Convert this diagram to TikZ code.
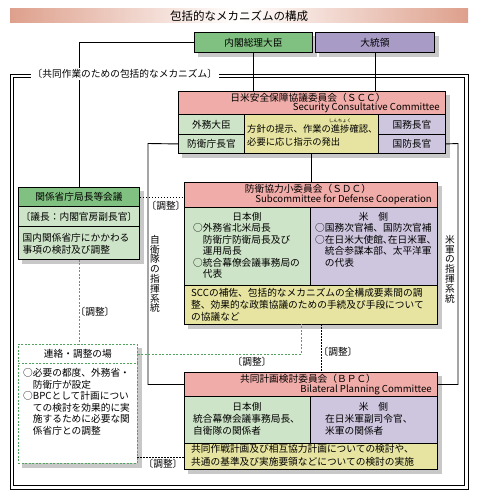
\documentclass[tikz,border=0pt]{standalone}
\usepackage{fontspec}
\setmainfont{Noto Sans CJK JP}
\usepackage{tikz}
\usetikzlibrary{calc, backgrounds}
\definecolor{pmgreen}{RGB}{128,192,128}
\definecolor{prespurple}{RGB}{168,156,198}
\definecolor{hdrpink}{RGB}{240,172,168}
\definecolor{lgreen}{RGB}{206,228,200}
\definecolor{lpurple}{RGB}{206,198,222}
\definecolor{lyellow}{RGB}{230,228,160}
\definecolor{shadowgray}{RGB}{200,200,200}
\definecolor{titlepink}{RGB}{222,160,140}
\definecolor{dashgreen}{RGB}{80,164,96}

\begin{document}
\begin{tikzpicture}[
  x=1pt, y=-1pt,
  font=\fontsize{9.7}{11.5}\selectfont,
  cell/.style={draw=black, line width=0.9pt, inner sep=0pt, anchor=north west},
  dashcell/.style={cell, draw=dashgreen, line width=0.8pt, dash pattern=on 2pt off 1.5pt, fill=white},
  titlebar/.style={left color=titlepink, right color=titlepink, middle color=white,
                   minimum width=458, minimum height=14, inner sep=0pt,
                   font=\fontsize{11.5}{12}\selectfont},
  txt/.style={inner sep=0pt, align=left, anchor=north west},
  eng/.style={inner sep=0pt, anchor=east, font=\fontsize{9.6}{10}\selectfont},
  link/.style={line width=0.9pt},
  adjline/.style={line width=0.8pt, dash pattern=on 1.5pt off 1.5pt},
  greenadj/.style={draw=dashgreen, line width=0.8pt, dash pattern=on 2pt off 1.5pt},
  adjlbl/.style={inner sep=1pt},
  vtext/.style={align=center, inner sep=0pt, font=\fontsize{9.7}{9.8}\selectfont},
]
  \useasboundingbox (0,0) rectangle (478,500);
  % title and heads of government
  \node[titlebar] (title) at (239,16) {包括的なメカニズムの構成};
  \node[cell, fill=pmgreen, minimum width=118, minimum height=20] (pm) at (194,32) {内閣総理大臣};
  \node[cell, fill=prespurple, minimum width=119, minimum height=20] (pres) at (315,32) {大統領};
  % frame of the joint mechanism
  \draw[line width=0.9pt] (10,74) rectangle (468,489);
  \draw[line width=0.9pt] (13.5,77.5) rectangle (464.5,485.5);
  % SCC
  \node[cell, fill=hdrpink, minimum width=267, minimum height=23] (scct) at (178,91) {};
  \node[cell, fill=lgreen, minimum width=66, minimum height=20] (scca) at (178,114) {外務大臣};
  \node[cell, fill=lgreen, minimum width=66, minimum height=19] (sccd) at (178,134) {防衛庁長官};
  \node[cell, fill=lyellow, minimum width=134, minimum height=39] (sccm) at (244,114) {};
  \node[cell, fill=lpurple, minimum width=67, minimum height=20] (sccs) at (378,114) {国務長官};
  \node[cell, fill=lpurple, minimum width=67, minimum height=19] (sccp) at (378,134) {国防長官};
  \node[inner sep=0pt] (sccjp) at (308,98) {日米安全保障協議委員会（ＳＣＣ）};
  \node[eng] (scceng) at (440,108) {Security Consultative Committee};
  \node[inner sep=0pt, anchor=west, font=\fontsize{9.3}{11}\selectfont] (sccm1) at (247,129) {方針の提示、作業の進捗確認、};
  \node[inner sep=0pt, font=\fontsize{4.5}{5}\selectfont] (sccruby) at (340,120.5) {しんちょく};
  \node[inner sep=0pt, anchor=west, font=\fontsize{9.3}{11}\selectfont] (sccm2) at (247,142) {必要に応じ指示の発出};
  % SDC
  \node[cell, fill=hdrpink, minimum width=253, minimum height=25] (sdct) at (184,182) {};
  \node[cell, fill=lgreen, minimum width=126, minimum height=78] (sdcj) at (184,207) {};
  \node[cell, fill=lpurple, minimum width=127, minimum height=78] (sdcu) at (310,207) {};
  \node[cell, fill=lyellow, minimum width=253, minimum height=39] (sdcb) at (184,285) {};
  \node[inner sep=0pt] (sdcjp) at (308,189) {防衛協力小委員会（ＳＤＣ）};
  \node[eng] (sdceng) at (432,200) {Subcommittee for Defense Cooperation};
  \node[inner sep=0pt] (sdcjh) at (247,217) {日本側};
  \node[txt] (sdcjl) at (193,223.5) {○外務省北米局長\\　防衛庁防衛局長及び\\　運用局長\\○統合幕僚会議事務局の\\　代表};
  \node[inner sep=0pt] (sdcuh) at (373.5,217) {米　側};
  \node[txt] (sdcul) at (315,223.5) {○国務次官補、国防次官補\\○在日米大使館､在日米軍､\\　統合参謀本部、太平洋軍\\　の代表};
  \node[txt, font=\fontsize{9.7}{11.7}\selectfont] (sdcbl) at (191,288.5) {SCCの補佐、包括的なメカニズムの全構成要素間の調\\整、効果的な政策協議のための手続及び手段について\\の協議など};
  % BPC
  \node[cell, fill=hdrpink, minimum width=253, minimum height=24] (bpct) at (184,372) {};
  \node[cell, fill=lgreen, minimum width=126, minimum height=47] (bpcj) at (184,396) {};
  \node[cell, fill=lpurple, minimum width=127, minimum height=47] (bpcu) at (310,396) {};
  \node[cell, fill=lyellow, minimum width=253, minimum height=26] (bpcb) at (184,443) {};
  \node[inner sep=0pt] (bpcjp) at (308,379) {共同計画検討委員会（ＢＰＣ）};
  \node[eng] (bpceng) at (432,390) {Bilateral Planning Committee};
  \node[inner sep=0pt] (bpcjh) at (247,407) {日本側};
  \node[txt] (bpcjl) at (193,414.5) {統合幕僚会議事務局長、\\自衛隊の関係者};
  \node[inner sep=0pt] (bpcuh) at (373.5,407) {米　側};
  \node[txt] (bpcul) at (325,414.5) {在日米軍副司令官、\\米軍の関係者};
  \node[txt, font=\fontsize{9.7}{13}\selectfont] (bpcbl) at (191,444.5) {共同作戦計画及び相互協力計画についての検討や、\\共通の基準及び実施要領などについての検討の実施};
  % ministries meeting
  \node[cell, fill=pmgreen, minimum width=121, minimum height=19] (kkh) at (18,187) {関係省庁局長等会議};
  \node[cell, fill=lgreen, minimum width=121, minimum height=20] (kkc) at (18,206) {〔議長：内閣官房副長官〕};
  \node[cell, fill=lgreen, minimum width=121, minimum height=33] (kkb) at (18,226) {};
  \node[txt, font=\fontsize{9.7}{12.3}\selectfont] (kkbl) at (22.5,233) {国内関係省庁にかかわる\\事項の検討及び調整};
  % liaison forum
  \node[dashcell, minimum width=119, minimum height=19] (rrh) at (18,344) {連絡・調整の場};
  \node[dashcell, minimum width=119, minimum height=100] (rrb) at (18,363) {};
  \node[txt] (rrbl) at (23,368.5) {○必要の都度、外務省・\\　防衛庁が設定\\○BPCとして計画につい\\　ての検討を効果的に実\\　施するために必要な関\\　係省庁との調整};
  % shadows
  \begin{scope}[on background layer]
    \fill[shadowgray] ($(pm.north west)+(4,4)$) rectangle ($(pm.south east)+(4,4)$);
    \fill[shadowgray] ($(pres.north west)+(4,4)$) rectangle ($(pres.south east)+(4,4)$);
    \fill[shadowgray] ($(scct.north west)+(4,4)$) rectangle ($(sccp.south east)+(4,4)$);
    \fill[shadowgray] ($(sdct.north west)+(4,4)$) rectangle ($(sdcb.south east)+(4,4)$);
    \fill[shadowgray] ($(bpct.north west)+(4,4)$) rectangle ($(bpcb.south east)+(4,4)$);
    \fill[shadowgray] ($(kkh.north west)+(4,4)$) rectangle ($(kkb.south east)+(4,4)$);
    \fill[shadowgray] ($(rrh.north west)+(4,4)$) rectangle ($(rrb.south east)+(4,4)$);
  \end{scope}
  % lines of authority
  \draw[link] (pm.west) -| (kkh.north);
  \draw[link] (pm.south) -- (pm.south |- scct.north);
  \draw[link] (pres.south) -- (pres.south |- scct.north);
  \draw[link] (sccm.south) -- (sccm.south |- sdct.north);
  \coordinate (jsdf) at (148,143.5);
  \coordinate (usf) at (458,143.5);
  \draw[link] (sccd.west) -- (jsdf) |- (bpct.west);
  \draw[link] (sccp.east) -- (usf) |- (bpct.east);
  \node[vtext] (jsdflbl) at (155,274) {自\\衛\\隊\\の\\指\\揮\\系\\統};
  \node[vtext] (usflbl) at (450,269) {米\\軍\\の\\指\\揮\\系\\統};
  % coordination links
  \coordinate (sdcadj) at (301,324);
  \coordinate (sdcbpc) at (321,324);
  \coordinate (rrbpc) at (137,457);
  \draw[adjline] (kkh.east) -- (kkh.east -| sdct.west);
  \draw[greenadj] (kkb.south) -- (kkb.south |- rrh.north);
  \draw[greenadj] (rrh.east) -| (sdcadj);
  \draw[adjline] (sdcbpc) -- (sdcbpc |- bpct.north);
  \draw[adjline] (rrbpc) -- (rrbpc -| bpct.west);
  \node[adjlbl] (adj1) at (166,206) {〔調整〕};
  \node[adjlbl] (adj2) at (95,312) {〔調整〕};
  \node[adjlbl] (adj3) at (252,362) {〔調整〕};
  \node[adjlbl] (adj4) at (338,352) {〔調整〕};
  \node[adjlbl] (adj5) at (163,464) {〔調整〕};
  % frame label
  \node[fill=white, inner sep=1.5pt, anchor=west] (framelbl) at (31,74) {〔共同作業のための包括的なメカニズム〕};
\end{tikzpicture}
\end{document}
